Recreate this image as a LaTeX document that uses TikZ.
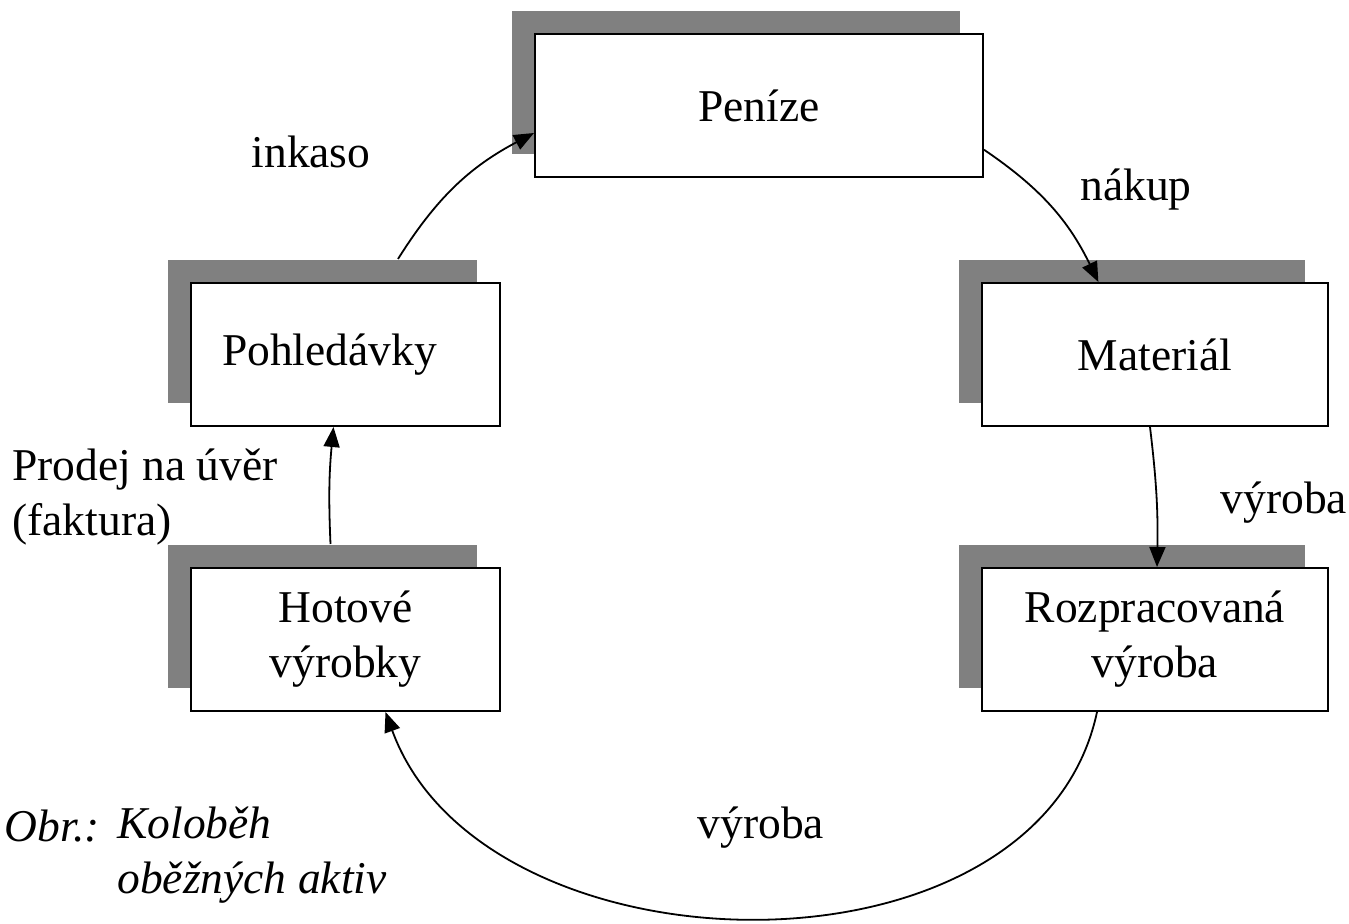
\documentclass[tikz,border=0pt]{standalone}
\usepackage{fontspec}
\setmainfont{Liberation Serif}
\usepackage{xcolor}
\usepackage{tikz}
\usetikzlibrary{arrows.meta,positioning,shadows}

\definecolor{shadowgray}{HTML}{808080}

\begin{document}
\begin{tikzpicture}[
  x=0.5pt, y=-0.5pt,
  font=\fontsize{22.75}{27.5}\selectfont,
  box/.style={draw, line width=1pt, fill=white, align=center, inner sep=0pt,
    minimum height=71.5pt,
    general shadow={fill=shadowgray, shadow xshift=-11.5pt, shadow yshift=11.5pt}},
  arrow/.style={-{Triangle[length=10pt,width=8pt]}, line width=0.9pt},
  lbl/.style={inner sep=0pt, align=left}
]
\useasboundingbox (0,0) rectangle (1349,924);

\node[box, minimum width=224pt] (penize) at (759,106) {Peníze};
\node[box, minimum width=173pt] (material) at (1155,354.5) {Materiál};
\node[box, minimum width=173pt, below=70pt of material] (rozprac) {Rozpracovaná\\výroba};
\node[box, minimum width=154.5pt] (pohled) at (345.5,354.5) {Pohledávky\hspace*{16pt}};
\node[box, minimum width=154.5pt, below=70pt of pohled] (hotove) {Hotové\\výrobky};

\draw[arrow] (penize.-11) to[bend left=15] (material.128);
\draw[arrow] ([xshift=-2.5pt]material.south) to[bend left=4] ([xshift=1pt]rozprac.north);
\draw[arrow] ([xshift=-29pt]rozprac.south) to[out=-102, in=-70, looseness=1.03] ([xshift=20pt]hotove.south);
\draw[arrow] ([shift={(-7.5pt,11.5pt)}]hotove.north) to[bend left=4] ([xshift=-6pt]pohled.south);
\draw[arrow] ([shift={(26.25pt,11.5pt)}]pohled.north) to[bend left=15] ([yshift=-13.5pt]penize.west);

\node[lbl] (inkaso) at (311,152) {inkaso};
\node[lbl] (nakup) at (1136,190) {nákup};
\node[lbl] (vyroba1) at (1284,503) {výroba};
\node[lbl] (vyroba2) at (761,828) {výroba};
\node[lbl, anchor=west] (prodej) at (12,497) {Prodej na úvěr\\(faktura)};

% popisek obrazku
\node[lbl, anchor=east, font=\fontsize{22.75}{27.5}\selectfont\itshape] (obr) at (100,826) {Obr.:};
\node[lbl, anchor=west, font=\fontsize{22.75}{27.5}\selectfont\itshape] (popis) at (117,855.5) {Koloběh\\oběžných aktiv};
\end{tikzpicture}
\end{document}
